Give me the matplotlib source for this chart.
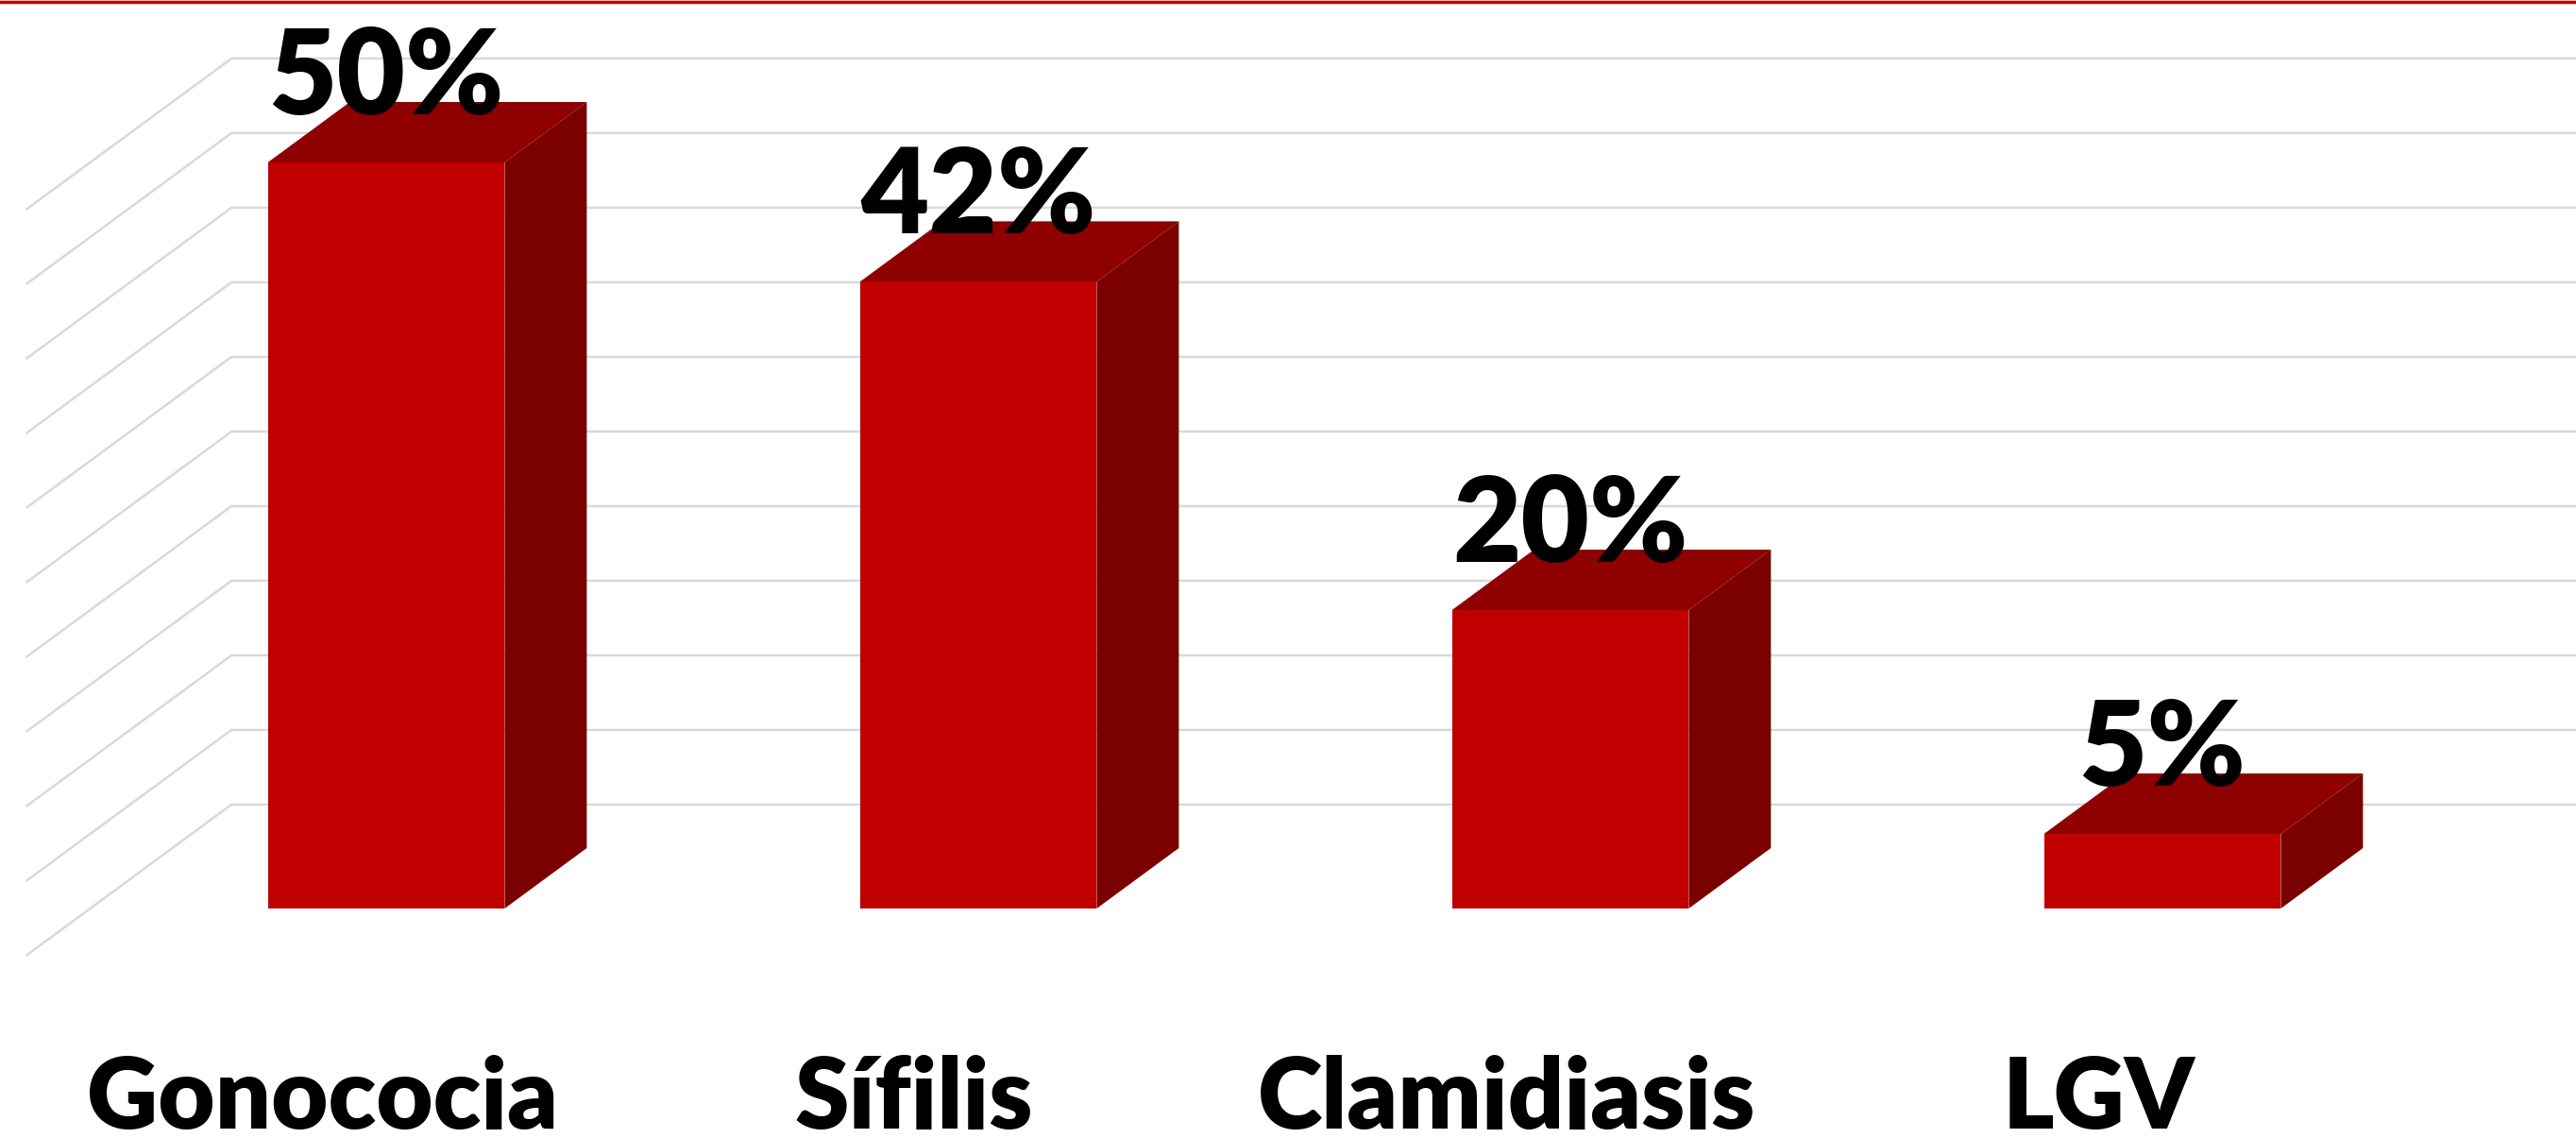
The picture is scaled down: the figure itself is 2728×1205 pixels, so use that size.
import numpy as np
import matplotlib.pyplot as plt
from matplotlib.patches import Polygon

categories = ['Gonococia', 'Sífilis', 'Clamidiasis', 'LGV']
values = [50, 42, 20, 5]
value_labels = ['50%', '42%', '20%', '5%']
grid_values = np.arange(0, 55, 5)

W, H, DPI = 2728, 1205, 100
px_per_cat = 627.0
px_per_pct = 15.8

fig = plt.figure(figsize=(W / DPI, H / DPI), dpi=DPI)
ax = fig.add_axes([0, 0, 1, 1])
ax.set_xlim(-409 / px_per_cat, (W - 409) / px_per_cat)
ax.set_ylim(-(H - 962) / px_per_pct, 962 / px_per_pct)
ax.axis('off')

# oblique depth vector (one bar depth)
ddx = 87 / px_per_cat
ddy = 64 / px_per_pct
back = 1.72
front = -0.78
half = 0.2


def shift(x, y, d):
    return x + d * ddx, y + d * ddy


# gridlines: left side wall + back wall
for v in grid_values:
    xb, yb = shift(-0.5, v, back)
    xf, yf = shift(-0.5, v, front)
    ax.plot([xf, xb, 5], [yf, yb, yb], color='#d9d9d9', lw=1.8, zorder=1,
            solid_joinstyle='miter', solid_capstyle='butt')

# bars
for i, v in enumerate(values):
    x0, x1 = i - half, i + half
    side = [(x1, 0), shift(x1, 0, 1), shift(x1, v, 1), (x1, v)]
    top = [(x0, v), (x1, v), shift(x1, v, 1), shift(x0, v, 1)]
    face = [(x0, 0), (x1, 0), (x1, v), (x0, v)]
    ax.add_patch(Polygon(side, closed=True, facecolor='#7b0000', edgecolor='none', zorder=2))
    ax.add_patch(Polygon(top, closed=True, facecolor='#8f0000', edgecolor='none', zorder=2))
    ax.add_patch(Polygon(face, closed=True, facecolor='#c00000', edgecolor='none', zorder=3))
    ax.text(i, v + ddy - 13 / px_per_pct, value_labels[i], ha='center', va='baseline',
            fontsize=90, fontweight='heavy', family=['Lato', 'DejaVu Sans'], zorder=5)
    ax.text(i + front * ddx, -14.75, categories[i], ha='center', va='baseline',
            fontsize=75, fontweight='heavy', family=['Lato', 'DejaVu Sans'], zorder=5)

# red rule at the top
fig.add_artist(plt.Line2D([0, 1], [1 - 1.5 / H] * 2, color='#c00000', lw=2.5,
                          transform=fig.transFigure))

fig.savefig('out.png', dpi=DPI)
